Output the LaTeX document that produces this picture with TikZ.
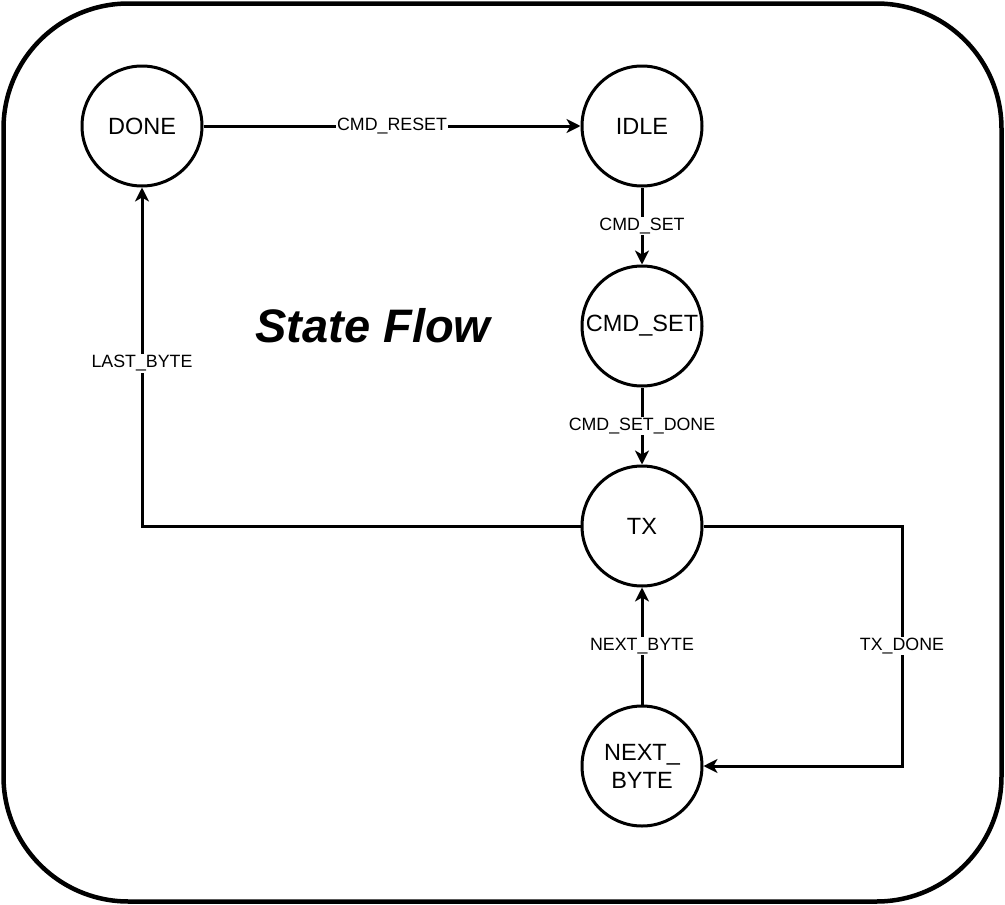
\documentclass[tikz,border=0pt]{standalone}
\usepackage{fontspec}
\setmainfont{Liberation Sans}
\usetikzlibrary{arrows.meta}
\begin{document}
\begin{tikzpicture}[x=1pt,y=-1pt,
  state/.style={circle,draw,line width=3pt,minimum size=120pt,inner sep=0pt,align=center,font=\fontsize{23.5}{28}\selectfont},
  edge/.style={line width=3pt,-{Stealth[length=14pt,width=14pt,inset=4pt]}},
  lbl/.style={fill=white,inner sep=1.5pt,font=\fontsize{17.8}{20}\selectfont}]
\useasboundingbox (0,0) rectangle (1005,905);
\draw[line width=4.5pt,rounded corners=125pt] (3.5,3.5) rectangle (1001.5,901.5);
\node[state] (done) at (142,126) {DONE};
\node[state] (idle) at (642,126) {IDLE};
\node[state] (cmdset) at (642,326) {CMD\_SET};
\node[state] (tx) at (642,526) {TX};
\node[state] (next) at (642,766) {NEXT\_\\BYTE};
\node[font=\fontsize{47}{52}\selectfont\bfseries\itshape] (title) at (373,326) {State Flow};
\coordinate (c1) at (902,526);
\coordinate (c2) at (902,766);
\draw[edge] (done) -- node[lbl] {CMD\_RESET} (idle);
\draw[edge] (idle) -- node[lbl] {CMD\_SET} (cmdset);
\draw[edge] (cmdset) -- node[lbl] {CMD\_SET\_DONE} (tx);
\draw[edge] (tx.west) -| node[lbl,pos=0.74] {LAST\_BYTE} (done.south);
\draw[edge] (tx.east) -- (c1) -- node[lbl] {TX\_DONE} (c2) -- (next.east);
\draw[edge] (next) -- node[lbl] {NEXT\_BYTE} (tx);
\end{tikzpicture}
\end{document}
